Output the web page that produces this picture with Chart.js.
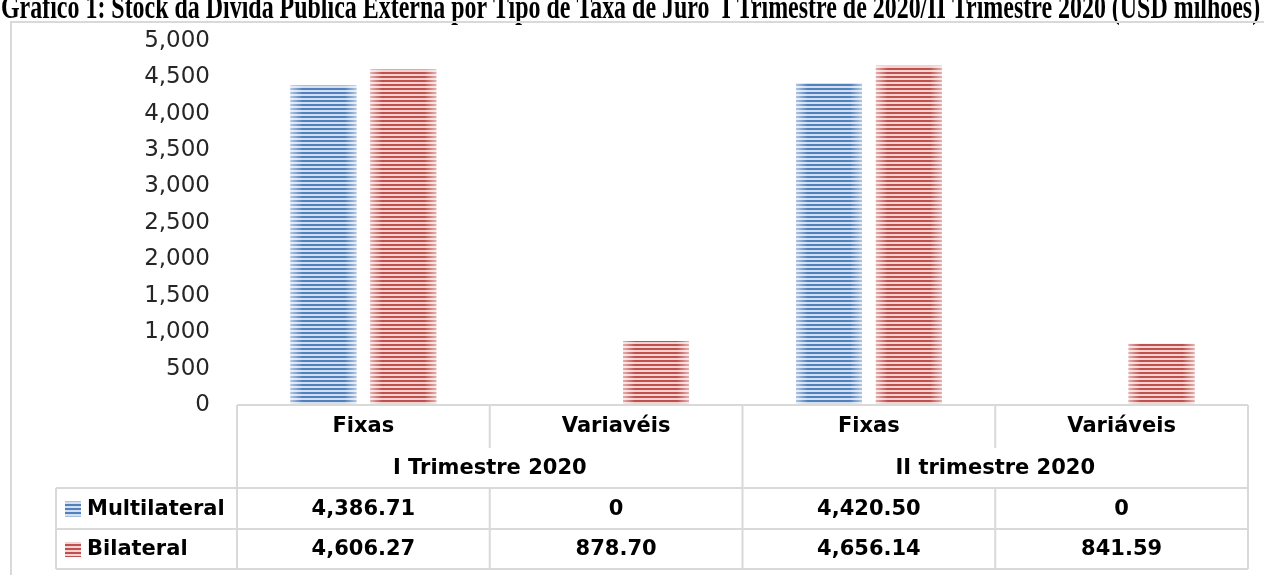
<!DOCTYPE html>
<html>
<head>
<meta charset="utf-8">
<script src="https://cdn.jsdelivr.net/npm/chart.js@4"></script>
<style>
  html, body { margin: 0; padding: 0; background: #fff; overflow: hidden; }
  #wrap { width: 1264px; height: 575px; position: relative; }
</style>
</head>
<body>
<div id="wrap"><canvas id="chart"></canvas></div>
<script>
// Data
const titleText = 'Gráfico 1: Stock da Dívida Pública Externa por Tipo de Taxa de Juro  I Trimestre de 2020/II Trimestre 2020 (USD milhões)';
const categories = ['Fixas', 'Variavéis', 'Fixas', 'Variáveis'];
const groups = ['I Trimestre 2020', 'II trimestre 2020'];
const seriesNames = ['Multilateral', 'Bilateral'];
const multilateral = [4386.71, 0, 4420.50, 0];
const bilateral = [4606.27, 878.70, 4656.14, 841.59];
const tableText = [
    ['4,386.71', '0', '4,420.50', '0'],
    ['4,606.27', '878.70', '4,656.14', '841.59']
];
const yTicks = [0, 500, 1000, 1500, 2000, 2500, 3000, 3500, 4000, 4500, 5000];

const ctx = document.getElementById('chart').getContext('2d');

// horizontal stripe fill, like the Excel pattern
function stripes(dark, light) {
    let c = document.createElement('canvas');
    c.width = 4; c.height = 4;
    let g = c.getContext('2d');
    g.fillStyle = light;
    g.fillRect(0, 0, 4, 4);
    g.fillStyle = dark;
    g.fillRect(0, 0, 4, 2);
    return ctx.createPattern(c, 'repeat');
}
const blueFill = stripes('#4f81bd', '#d3dff0');
const redFill = stripes('#c0504d', '#f2d3d2');
const fills = [blueFill, redFill];

const lineColor = '#d9d9d9';
const tableFont = 'bold 21px "DejaVu Sans"';

// lighten the left/right edges of each bar
const barShade = {
    id: 'barShade',
    afterDatasetsDraw(chart) {
        let c = chart.ctx;
        chart.data.datasets.forEach((ds, i) => {
            chart.getDatasetMeta(i).data.forEach(bar => {
                let p = bar.getProps(['x', 'y', 'base', 'width'], true);
                let h = p.base - p.y;
                if (h <= 0) return;
                let l = p.x - p.width / 2;
                let grad = c.createLinearGradient(l, 0, l + p.width, 0);
                grad.addColorStop(0, 'rgba(255,255,255,0.55)');
                grad.addColorStop(0.18, 'rgba(255,255,255,0)');
                grad.addColorStop(0.82, 'rgba(255,255,255,0)');
                grad.addColorStop(1, 'rgba(255,255,255,0.55)');
                c.save();
                c.fillStyle = grad;
                c.fillRect(l, p.y, p.width, h);
                c.restore();
            });
        });
    }
};

// title (tall, clipped at the top as in the source) + outer frame
const frame = {
    id: 'frame',
    beforeDraw(chart) {
        let c = chart.ctx;
        c.save();
        c.fillStyle = '#000';
        c.font = 'bold 20px "Liberation Serif"';
        let w = c.measureText(titleText).width;
        let size = 20 * 1260 / w;
        c.font = 'bold ' + size.toFixed(2) + 'px "Liberation Serif"';
        c.textAlign = 'left';
        c.textBaseline = 'alphabetic';
        c.save();
        c.translate(1, 18);
        c.scale(1, 1.45);
        c.fillText(titleText, 0, 0);
        c.restore();
        c.strokeStyle = lineColor;
        c.lineWidth = 2;
        c.beginPath();
        c.moveTo(11, 580);
        c.lineTo(11, 22);
        c.lineTo(1270, 22);
        c.stroke();
        c.restore();
    }
};

// data table under the plot
const dataTable = {
    id: 'dataTable',
    afterDraw(chart) {
        let c = chart.ctx;
        let x = chart.scales.x;
        let step = x.getPixelForValue(1) - x.getPixelForValue(0);
        let left = x.getPixelForValue(0) - step / 2;
        let right = x.getPixelForValue(categories.length - 1) + step / 2;
        let top = chart.chartArea.bottom;
        let r1 = top + 42, r2 = top + 83, r3 = top + 124, r4 = top + 164;
        let legLeft = 56;

        c.save();
        c.strokeStyle = lineColor;
        c.lineWidth = 2;
        c.beginPath();
        // horizontals
        c.moveTo(left, top); c.lineTo(right, top);
        c.moveTo(legLeft, r2); c.lineTo(right, r2);
        c.moveTo(legLeft, r3); c.lineTo(right, r3);
        c.moveTo(legLeft, r4); c.lineTo(right, r4);
        // outer verticals
        c.moveTo(left, top); c.lineTo(left, r4);
        c.moveTo(right, top); c.lineTo(right, r4);
        c.moveTo(legLeft, r2); c.lineTo(legLeft, r4);
        // between groups
        let mid = left + step * 2;
        c.moveTo(mid, top); c.lineTo(mid, r4);
        // inside groups, broken by the group label row
        [1, 3].forEach(k => {
            let xx = left + step * k;
            c.moveTo(xx, top); c.lineTo(xx, r1 + 1);
            c.moveTo(xx, r2); c.lineTo(xx, r4);
        });
        c.stroke();

        c.fillStyle = '#000';
        c.font = tableFont;
        c.textAlign = 'center';
        c.textBaseline = 'middle';
        categories.forEach((cat, i) => {
            let cx = x.getPixelForValue(i);
            c.fillText(cat, cx, top + 22);
            c.fillText(tableText[0][i], cx, (r2 + r3) / 2 + 1);
            c.fillText(tableText[1][i], cx, (r3 + r4) / 2 + 1);
        });
        groups.forEach((g, i) => {
            c.fillText(g, left + step * (2 * i + 1), (r1 + r2) / 2 + 1);
        });

        // legend keys
        c.textAlign = 'left';
        seriesNames.forEach((name, i) => {
            let cy = i === 0 ? (r2 + r3) / 2 : (r3 + r4) / 2;
            c.fillStyle = fills[i];
            c.fillRect(legLeft + 9, cy - 7, 16, 15);
            c.fillStyle = '#000';
            c.fillText(name, legLeft + 31, cy + 1);
        });
        c.restore();
    }
};

new Chart(ctx, {
    type: 'bar',
    data: {
        labels: categories,
        datasets: [
            { label: seriesNames[0], data: multilateral, backgroundColor: blueFill },
            { label: seriesNames[1], data: bilateral, backgroundColor: redFill }
        ]
    },
    options: {
        responsive: true,
        maintainAspectRatio: false,
        animation: false,
        layout: { padding: { left: 0, right: 16, top: 38, bottom: 170 } },
        datasets: { bar: { categoryPercentage: 0.632, barPercentage: 0.825 } },
        plugins: {
            legend: { display: false },
            tooltip: { enabled: false }
        },
        scales: {
            x: {
                display: false
            },
            y: {
                min: 0,
                max: 5000,
                afterBuildTicks: function(scale) {
                    scale.ticks = yTicks.map(v => ({ value: v }));
                },
                afterFit: function(scale) {
                    scale.width = 237;
                },
                grid: { display: false, drawTicks: false },
                border: { display: false },
                ticks: {
                    padding: 27,
                    color: '#262626',
                    font: { family: 'DejaVu Sans', size: 23 },
                    callback: v => v.toLocaleString('en-US')
                }
            }
        }
    },
    plugins: [frame, barShade, dataTable]
});
</script>
</body>
</html>
